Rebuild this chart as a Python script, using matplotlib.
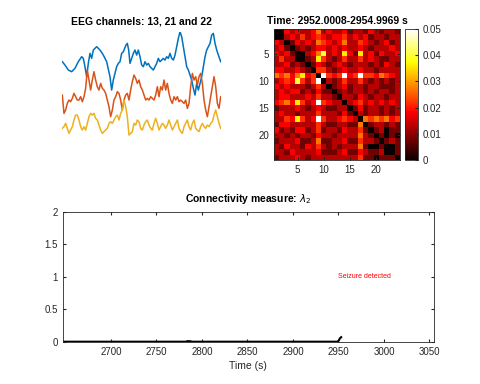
import numpy as np
import matplotlib
matplotlib.use("Agg")
import matplotlib.pyplot as plt

plt.rcParams['font.family'] = ['Liberation Sans', 'DejaVu Sans']
TC = '#262626'

# ---------------- EEG traces (estimated, arbitrary units) ----------------
blue_t = [37,45,55,65,75,85,95,100,105,110,115,120,125,130,140,150,160,170,180,185,190,195,200,205,210,215,220,228,232,236,240,245,250,255,260,265,270,275,280,285,290,295,300,310,320,325,330,335,340,345,350,355,360,365,370,375,380,385,390,395,400,405,410,415,420,425,430,435,440,445,450,455,460,465,470,475,480,485,490,495,500,505,512]
blue_v = [185,195,210,215,205,185,170,175,200,230,190,160,175,150,140,150,165,185,230,270,240,220,200,190,185,160,155,135,130,150,190,175,160,150,165,150,170,195,200,185,195,190,200,210,190,175,185,180,175,180,170,175,160,175,180,165,140,115,95,110,140,170,200,210,225,240,265,285,250,270,250,230,200,170,150,140,130,105,100,130,150,165,185]

orange_t = [37,42,47,52,57,62,67,72,77,82,87,92,97,102,107,112,117,122,127,132,137,142,147,152,157,162,167,172,177,182,187,192,197,202,207,212,217,222,227,232,237,242,247,252,257,262,267,272,277,282,287,292,297,302,307,312,317,322,327,332,337,342,347,352,357,362,367,372,377,382,387,392,397,402,407,412,417,422,427,432,437,442,447,452,457,462,467,472,477,482,487,492,497,502,507,512]
orange_v = [285,340,330,310,300,305,295,280,290,300,300,290,305,290,265,210,240,270,240,215,240,260,270,250,265,270,280,300,320,350,330,300,290,275,280,300,330,300,285,280,300,270,245,225,235,250,240,260,270,285,300,295,300,290,295,300,285,260,290,260,270,240,270,250,280,300,310,290,300,290,305,300,305,310,300,325,310,260,220,240,230,255,230,220,250,300,330,350,320,290,260,230,260,310,325,290]

yellow_t = orange_t
yellow_v = [385,380,370,385,400,390,380,360,345,345,360,380,390,380,390,370,350,340,345,340,355,360,375,390,400,395,390,385,370,365,370,360,350,345,360,340,330,300,320,350,405,400,395,370,375,360,365,385,390,375,365,360,375,385,390,370,355,370,390,380,370,375,385,375,360,375,390,380,370,360,385,395,400,380,370,360,380,390,370,360,385,390,395,380,370,380,385,375,380,370,365,345,330,350,370,385]

# ---------------- connectivity matrix (24 x 24, symmetric) ----------------
# upper-triangle rows as level digits; level_values gives the value of each level
level_values = {'0': 0.0, '1': 0.008, '2': 0.013, '3': 0.018, '4': 0.022,
                '5': 0.027, '6': 0.030, '7': 0.036, '8': 0.040, 'A': 0.050}
upper_rows = [
    "03232235232231221321221",
    "2324234323342323122122",
    "132325432352243212312",
    "12123323232232122232",
    "0235823273172313223",
    "127421242242321122",
    "13212321222121321",
    "4421232232212222",
    "A434A34A4435432",
    "21242242121212",
    "1231221221112",
    "121221212212",
    "22132122122",
    "2342323232",
    "131221212",
    "21221212",
    "5454534",
    "122121",
    "12011",
    "1010",
    "121",
    "01",
    "1",
]
n_ch = 24
conn = np.zeros((n_ch, n_ch))
for i, row in enumerate(upper_rows):
    for k, ch in enumerate(row):
        j = i + 1 + k
        conn[i, j] = conn[j, i] = level_values[ch]

matrix_ticks = [5, 10, 15, 20]
cbar_ticks = [0, 0.01, 0.02, 0.03, 0.04, 0.05]

# ---------------- lambda_2 time series ----------------
lam_t = [2647, 2700, 2750, 2782, 2784, 2787, 2789, 2850, 2900, 2949, 2950.5, 2951.5, 2953]
lam_v = [0, 0, 0, 0, 0.008, 0.008, 0, 0, 0, 0, 0.02, 0.05, 0.07]
lam_xticks = [2700, 2750, 2800, 2850, 2900, 2950, 3000, 3050]
lam_yticks = [0, 0.5, 1, 1.5, 2]

fig = plt.figure(figsize=(4.8, 3.84), dpi=100)

# EEG axes
ax1 = fig.add_axes([62.3/480, 1-136.7/384, 158.4/480, 105/384])
ax1.plot(blue_t, [-v for v in blue_v], color='#0072BD', lw=1.1)
ax1.plot(orange_t, [-v for v in orange_v], color='#D95319', lw=1.1)
ax1.plot(yellow_t, [-v for v in yellow_v], color='#EDB120', lw=1.1)
ax1.set_xlim(37, 512)
ax1.set_ylim(-410, -95)
ax1.axis('off')
fig.text(141.6/480, 1-21/384, 'EEG channels: 13, 21 and 22', ha='center', va='center',
         fontsize=7.5, fontweight='bold', color='black')

# heatmap
ax2 = fig.add_axes([274/480, 1-160/384, 126/480, 131/384])
im = ax2.imshow(conn, cmap='hot', vmin=0, vmax=0.05, interpolation='nearest',
                aspect='auto', extent=(0.5, 24.5, 24.5, 0.5))
ax2.set_xticks(matrix_ticks)
ax2.set_yticks(matrix_ticks)
ax2.tick_params(direction='in', length=2.5, labelsize=7, colors=TC, top=True, right=True)
for s in ax2.spines.values():
    s.set_color(TC); s.set_linewidth(0.6)
fig.text(337/480, 1-21/384, 'Time: 2952.0008-2954.9969 s', ha='center', va='center',
         fontsize=7.5, fontweight='bold', color='black')

cax = fig.add_axes([405/480, 1-160/384, 13/480, 131/384])
cb = fig.colorbar(im, cax=cax, ticks=cbar_ticks)
cb.ax.set_yticklabels(['0', '0.01', '0.02', '0.03', '0.04', '0.05'])
cb.ax.tick_params(direction='in', length=2.5, labelsize=7, colors=TC)
cb.outline.set_edgecolor(TC); cb.outline.set_linewidth(0.6)

# lambda_2 axes
ax3 = fig.add_axes([62.7/480, 1-341.7/384, 371.3/480, 130/384])
ax3.plot(lam_t, lam_v, color='black', lw=1.5)
ax3.set_xlim(2647, 3055)
ax3.set_ylim(0, 2)
ax3.set_xticks(lam_xticks)
ax3.set_yticks(lam_yticks)
ax3.set_yticklabels(['0', '0.5', '1', '1.5', '2'])
ax3.tick_params(direction='in', length=2.5, labelsize=7, colors=TC, top=True, right=True)
for s in ax3.spines.values():
    s.set_color(TC); s.set_linewidth(0.6)
ax3.text(2950, 1, 'Seizure detected', color='red', fontsize=5, ha='left', va='center')
fig.text(248/480, 1-199/384, r'Connectivity measure: $\lambda_2$', ha='center', va='center',
         fontsize=7.5, fontweight='bold', color='black')
fig.text(248/480, 1-366/384, 'Time (s)', ha='center', va='center', fontsize=7.5, color=TC)

fig.savefig('out.png', dpi=100)
